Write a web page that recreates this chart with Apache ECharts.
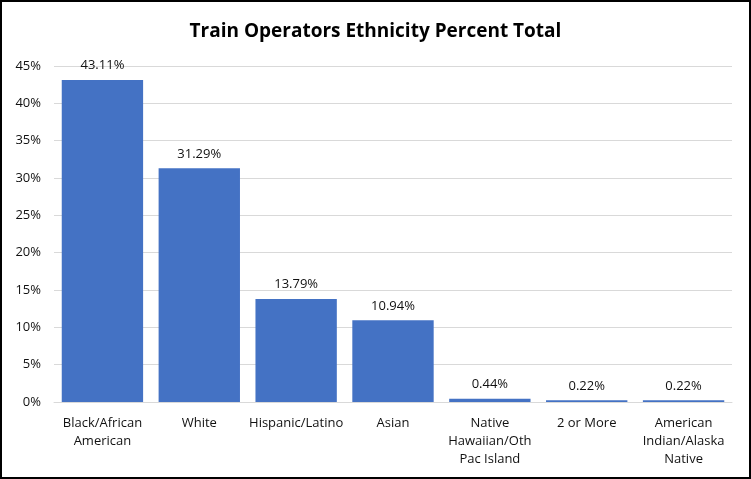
<!DOCTYPE html>
<html><head><meta charset="utf-8">
<script src="https://cdn.jsdelivr.net/npm/echarts@6/dist/echarts.min.js"></script>
<style>html,body{margin:0;padding:0;background:#fff}#c{width:751px;height:479px;box-sizing:border-box;border:2px solid #000}</style>
</head><body><div id="c"></div>
<script>
var categories = ["Black/African\nAmerican", "White", "Hispanic/Latino", "Asian", "Native\nHawaiian/Oth\nPac Island", "2 or More", "American\nIndian/Alaska\nNative"];
var values = [43.11, 31.29, 13.79, 10.94, 0.44, 0.22, 0.22];
var chart = echarts.init(document.getElementById('c'), null, {renderer:'canvas'});
chart.setOption({
  animation:false,
  title:{text:'Train Operators Ethnicity Percent Total', left:'center', top:15,
    textStyle:{fontFamily:'Open Sans', fontWeight:'bold', fontSize:19, color:'#000'}},
  grid:{left:52, right:17, top:64, bottom:75, containLabel:false},
  xAxis:{type:'category', data:categories,
    axisLine:{lineStyle:{color:'#d9d9d9'}}, axisTick:{show:false},
    axisLabel:{interval:0, color:'#111', fontFamily:'Open Sans', fontSize:13, lineHeight:18, margin:12}},
  yAxis:{type:'value', min:0, max:45, interval:5,
    axisLabel:{formatter:'{value}%', color:'#111', fontFamily:'Open Sans', fontSize:13, margin:13},
    splitLine:{lineStyle:{color:'#d9d9d9'}}, axisLine:{show:false}, axisTick:{show:false}},
  series:[{type:'bar', data:values, barCategoryGap:'16%', itemStyle:{color:'#4472C4'},
    label:{show:true, position:'top', distance:8, formatter:function(p){return p.value.toFixed(2)+'%';},
      color:'#111', fontFamily:'Open Sans', fontSize:13}}]
});
</script></body></html>
